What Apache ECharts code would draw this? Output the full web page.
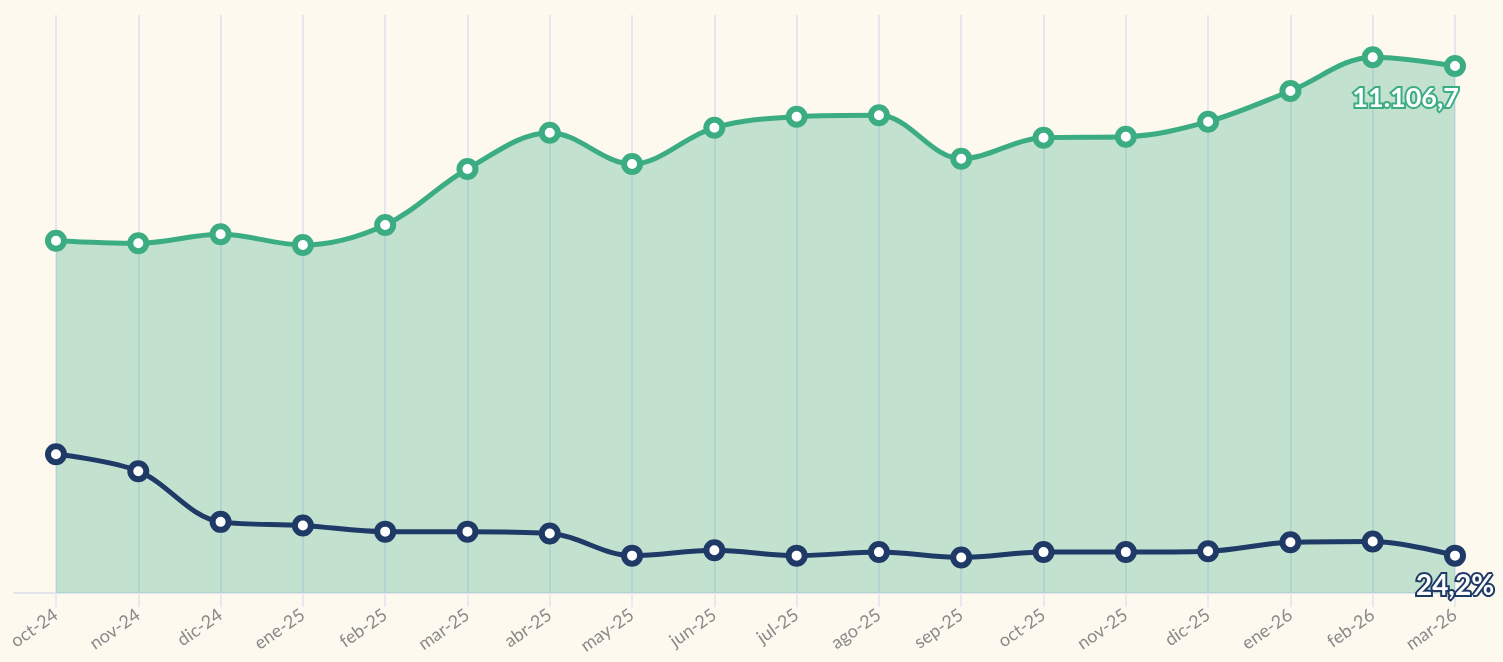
<!DOCTYPE html>
<html>
<head>
<meta charset="utf-8">
<script src="https://cdn.jsdelivr.net/npm/echarts@6/dist/echarts.min.js"></script>
<style>
  html, body { margin: 0; padding: 0; background: #fdf9ef; }
  #chart { width: 1503px; height: 662px; }
</style>
</head>
<body>
<div id="chart"></div>
<script>
// meses
var categories = ["oct-24", "nov-24", "dic-24", "ene-25", "feb-25", "mar-25", "abr-25", "may-25", "jun-25",
  "jul-25", "ago-25", "sep-25", "oct-25", "nov-25", "dic-25", "ene-26", "feb-26", "mar-26"];
// serie verde (eje izquierdo)
var greenValues = [7425, 7370, 7560, 7334, 7756, 8936, 9701, 9041, 9806,
  10038, 10068, 9153, 9596, 9617, 9933, 10580, 11290, 11106.7];
// serie azul, en %
var navyValues = [35.6, 33.7, 28.0, 27.6, 26.9, 26.9, 26.7, 24.2, 24.8,
  24.2, 24.6, 24.0, 24.6, 24.6, 24.7, 25.7, 25.8, 24.2];

var GREEN = "#3cad83";
var NAVY = "#1f3a66";

function fmt(v, dec) {
  var s = v.toFixed(dec).split(".");
  var ent = s[0].replace(/\B(?=(\d{3})+(?!\d))/g, ".");
  return s.length > 1 ? ent + "," + s[1] : ent;
}

var last = categories.length - 1;

var chart = echarts.init(document.getElementById("chart"));
chart.setOption({
  backgroundColor: "#fdf9ef",
  animation: false,
  grid: { left: 56, right: 48, top: 15, bottom: 69 },
  xAxis: {
    type: "category",
    boundaryGap: false,
    data: categories,
    axisLine: { show: true, lineStyle: { color: "#e4e4ec", width: 2 } },
    axisTick: { show: true, length: 14, lineStyle: { color: "#e8e8ef", width: 2 } },
    splitLine: { show: true, lineStyle: { color: "#e6e6ee", width: 2 } },
    axisLabel: {
      rotate: 35,
      color: "#8a8a8a",
      fontSize: 18,
      fontFamily: "Lato",
      margin: 20,
      interval: 0
    }
  },
  yAxis: [
    { type: "value", min: 0, max: 12181, show: false, splitLine: { show: false } },
    { type: "value", min: 20, max: 85, show: false, splitLine: { show: false } }
  ],
  graphic: [{
    type: "line",
    shape: { x1: 13, y1: 593, x2: 56, y2: 593 },
    style: { stroke: "#e4e4ec", lineWidth: 2 },
    z: 1
  }],
  series: [
    {
      name: "verde",
      type: "line",
      yAxisIndex: 0,
      data: greenValues,
      smooth: 0.35,
      symbol: "circle",
      symbolSize: 16,
      lineStyle: { color: GREEN, width: 5 },
      itemStyle: { color: "#ffffff", borderColor: GREEN, borderWidth: 6 },
      areaStyle: { color: GREEN, opacity: 0.3 },
      z: 3,
      label: {
        show: true,
        formatter: function (p) { return p.dataIndex === last ? fmt(p.value, 1) : ""; },
        position: "bottom",
        align: "right",
        offset: [4, 0],
        distance: 8,
        color: "#ffffff",
        fontFamily: "Lato",
        fontWeight: "bold",
        fontSize: 27,
        textBorderColor: GREEN,
        textBorderWidth: 4
      }
    },
    {
      name: "azul",
      type: "line",
      yAxisIndex: 1,
      data: navyValues,
      smooth: 0.35,
      symbol: "circle",
      symbolSize: 16,
      lineStyle: { color: NAVY, width: 5 },
      itemStyle: { color: "#ffffff", borderColor: NAVY, borderWidth: 6 },
      z: 4,
      label: {
        show: true,
        formatter: function (p) { return p.dataIndex === last ? fmt(p.value, 1) + "%" : ""; },
        position: "bottom",
        distance: 5,
        color: "#ffffff",
        fontFamily: "Lato",
        fontWeight: "bold",
        fontSize: 28,
        textBorderColor: NAVY,
        textBorderWidth: 4
      }
    }
  ]
});
</script>
</body>
</html>
